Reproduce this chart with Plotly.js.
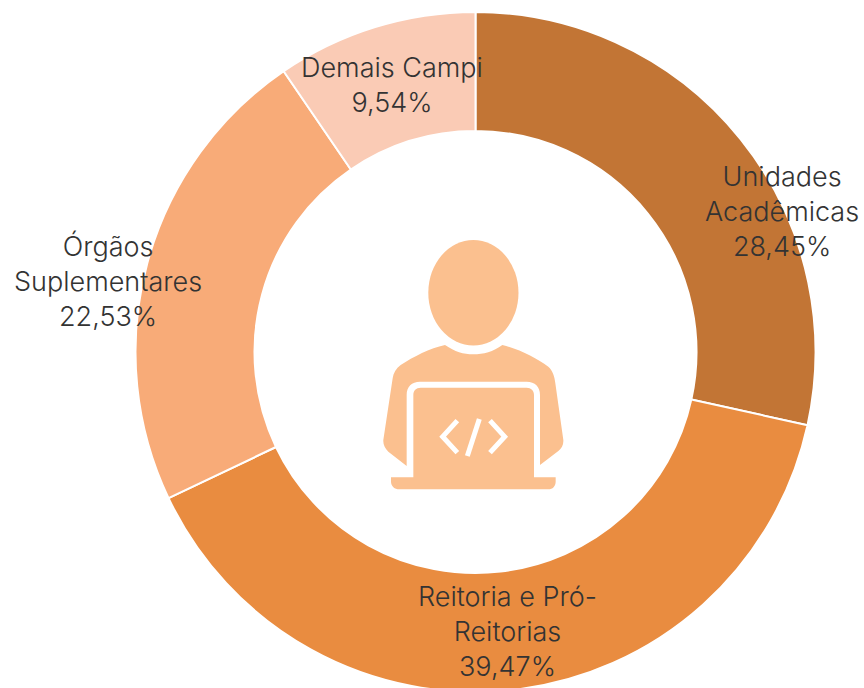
<!DOCTYPE html>
<html><head><meta charset="utf-8">
<script src="https://cdn.plot.ly/plotly-3.0.1.min.js"></script>
<style>html,body{margin:0;padding:0;background:#fff;overflow:hidden;width:864px;height:688px}#c{width:864px;height:704px}</style></head>
<body><div id="c"></div>
<script>
const categories=["Unidades Acadêmicas","Reitoria e Pró-Reitorias","Órgãos Suplementares","Demais Campi"];
const values=[28.45,39.47,22.53,9.54];
const pctLabels=["28,45%","39,47%","22,53%","9,54%"];
const colors=["#C27535","#E98C40","#F8AB78","#FACBB5"];
const labelLines=[["Unidades","Acadêmicas"],["Reitoria e Pró-","Reitorias"],["Órgãos","Suplementares"],["Demais Campi"]];
const labelPos=[[782,211],[507,631],[108,281],[392,85]];
const iconColor='#FBC08F';
const cx=475.5,cy=352,R=340,r=221;
const W=864,H=704;
const px=v=>v/W, py=v=>1-v/H;
const annotations=categories.map((c,i)=>({
  x:px(labelPos[i][0]),y:py(labelPos[i][1]),xref:'paper',yref:'paper',showarrow:false,
  text:labelLines[i].concat([pctLabels[i]]).join('<br>'),
  font:{family:'Inter, sans-serif',size:27,weight:300,color:'#333333'},align:'center',xanchor:'center',yanchor:'middle'
}));
// icon outlines, written in a 3x grid anchored at (380,230)
const conv=d=>d.replace(/(-?[\d.]+),(-?[\d.]+)/g,(m,a,b)=>px(+a/3+380)+','+py(+b/3+230));
const fillShape=(d,col)=>({type:'path',xref:'paper',yref:'paper',path:conv(d),fillcolor:col,line:{width:0}});
const strokeShape=d=>({type:'path',xref:'paper',yref:'paper',path:conv(d),line:{color:'#fff',width:5}});
const shapes=[
 {type:'circle',xref:'paper',yref:'paper',x0:px(428.3),x1:px(518.5),y0:py(240),y1:py(345.5),fillcolor:iconColor,line:{width:0}},
 fillShape('M195,345 C225,365 250,373 280,373 C310,373 340,365 367,345 C420,358 470,385 505,410 C518,422 524,440 526,460 L550,630 C551,645 545,655 535,663 L480,705 L480,495 C480,470 465,455 440,455 L120,455 C95,455 80,470 80,495 L80,708 L25,665 C15,655 9,645 10,630 L38,445 C40,430 48,415 62,405 C100,380 150,355 195,345 Z',iconColor),
 fillShape('M100,742 L100,495 C100,482 108,473 122,473 L440,473 C453,473 462,482 462,495 L462,742 L527,742 L527,755 C527,768 518,778 505,778 L58,778 C44,778 33,768 33,755 L33,742 Z',iconColor),
 strokeShape('M232,572 L188,620 L232,668'),
 strokeShape('M298,567 L262,678'),
 strokeShape('M330,572 L374,620 L330,668')
];
Plotly.newPlot('c',[{
  type:'pie',labels:categories,values:values,hole:r/R,sort:false,direction:'clockwise',rotation:0,
  textinfo:'none',hoverinfo:'label+percent',
  marker:{colors:colors,line:{color:'#fff',width:2}},
  domain:{x:[px(cx-R),px(cx+R)],y:[py(cy+R),py(cy-R)]},showlegend:false
}],{width:W,height:H,margin:{l:0,r:0,t:0,b:0},paper_bgcolor:'#fff',annotations,shapes,showlegend:false},{displayModeBar:false});
</script></body></html>
